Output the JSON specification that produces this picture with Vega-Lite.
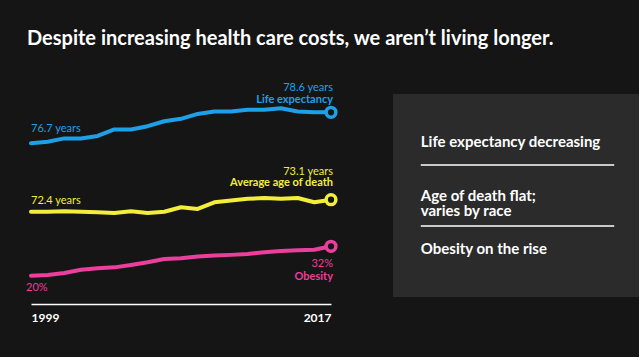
{
  "$schema": "https://vega.github.io/schema/vega-lite/v6.json",
  "background": "#151515",
  "padding": {"left": 26, "top": 29, "right": 0, "bottom": 34},
  "title": {"text": "Despite increasing health care costs, we aren’t living longer.", "anchor": "start", "frame": "bounds", "color": "#ffffff", "font": "Lato", "fontSize": 20, "fontWeight": "bold", "dx": 1, "offset": 33},
  "config": {"view": {"stroke": null}, "font": "Lato"},
  "bounds": "flush",
  "spacing": 62,
  "datasets": {
    "series": [
      {"series": "life", "year": 1999, "value": 76.7}, {"series": "life", "year": 2000, "value": 76.8}, {"series": "life", "year": 2001, "value": 77.0}, {"series": "life", "year": 2002, "value": 77.0}, {"series": "life", "year": 2003, "value": 77.15}, {"series": "life", "year": 2004, "value": 77.55}, {"series": "life", "year": 2005, "value": 77.55}, {"series": "life", "year": 2006, "value": 77.75}, {"series": "life", "year": 2007, "value": 78.05}, {"series": "life", "year": 2008, "value": 78.2}, {"series": "life", "year": 2009, "value": 78.5}, {"series": "life", "year": 2010, "value": 78.65}, {"series": "life", "year": 2011, "value": 78.65}, {"series": "life", "year": 2012, "value": 78.75}, {"series": "life", "year": 2013, "value": 78.75}, {"series": "life", "year": 2014, "value": 78.85}, {"series": "life", "year": 2015, "value": 78.65}, {"series": "life", "year": 2016, "value": 78.6}, {"series": "life", "year": 2017, "value": 78.6},
      {"series": "death", "year": 1999, "value": 72.4}, {"series": "death", "year": 2000, "value": 72.4}, {"series": "death", "year": 2001, "value": 72.42}, {"series": "death", "year": 2002, "value": 72.4}, {"series": "death", "year": 2003, "value": 72.37}, {"series": "death", "year": 2004, "value": 72.33}, {"series": "death", "year": 2005, "value": 72.42}, {"series": "death", "year": 2006, "value": 72.33}, {"series": "death", "year": 2007, "value": 72.4}, {"series": "death", "year": 2008, "value": 72.66}, {"series": "death", "year": 2009, "value": 72.56}, {"series": "death", "year": 2010, "value": 72.95}, {"series": "death", "year": 2011, "value": 73.05}, {"series": "death", "year": 2012, "value": 73.15}, {"series": "death", "year": 2013, "value": 73.2}, {"series": "death", "year": 2014, "value": 73.15}, {"series": "death", "year": 2015, "value": 73.2}, {"series": "death", "year": 2016, "value": 72.95}, {"series": "death", "year": 2017, "value": 73.1},
      {"series": "obesity", "year": 1999, "value": 20.0}, {"series": "obesity", "year": 2000, "value": 20.3}, {"series": "obesity", "year": 2001, "value": 21.1}, {"series": "obesity", "year": 2002, "value": 22.4}, {"series": "obesity", "year": 2003, "value": 23.0}, {"series": "obesity", "year": 2004, "value": 23.4}, {"series": "obesity", "year": 2005, "value": 24.4}, {"series": "obesity", "year": 2006, "value": 25.5}, {"series": "obesity", "year": 2007, "value": 26.8}, {"series": "obesity", "year": 2008, "value": 27.1}, {"series": "obesity", "year": 2009, "value": 27.8}, {"series": "obesity", "year": 2010, "value": 28.2}, {"series": "obesity", "year": 2011, "value": 28.5}, {"series": "obesity", "year": 2012, "value": 28.9}, {"series": "obesity", "year": 2013, "value": 29.6}, {"series": "obesity", "year": 2014, "value": 30.1}, {"series": "obesity", "year": 2015, "value": 30.4}, {"series": "obesity", "year": 2016, "value": 30.6}, {"series": "obesity", "year": 2017, "value": 32.0}
    ],
    "labels": [
      {"series": "life", "kind": "start", "year": 1999, "value": 76.7, "label": "76.7 years"},
      {"series": "life", "kind": "end", "year": 2017, "value": 78.6, "label": "78.6 years"},
      {"series": "life", "kind": "name", "year": 2017, "value": 78.6, "label": "Life expectancy"},
      {"series": "death", "kind": "start", "year": 1999, "value": 72.4, "label": "72.4 years"},
      {"series": "death", "kind": "end", "year": 2017, "value": 73.1, "label": "73.1 years"},
      {"series": "death", "kind": "name", "year": 2017, "value": 73.1, "label": "Average age of death"},
      {"series": "obesity", "kind": "start", "year": 1999, "value": 20, "label": "20%"},
      {"series": "obesity", "kind": "end", "year": 2017, "value": 32, "label": "32%"},
      {"series": "obesity", "kind": "name", "year": 2017, "value": 32, "label": "Obesity"}
    ],
    "notes": [
      {"item": 1, "text": "Life expectancy decreasing"},
      {"item": 2, "text": "Age of death flat;\nvaries by race"},
      {"item": 3, "text": "Obesity on the rise"}
    ]
  },
  "hconcat": [
    {
      "width": 300,
      "height": 210,
      "resolve": {"scale": {"y": "independent"}},
      "layer": [
        {
          "layer": [
            {"data": {"name": "series"}, "transform": [{"filter": "datum.series === 'life'"}],
             "mark": {"type": "line", "color": "#1ea0e6", "strokeWidth": 4, "strokeCap": "round", "strokeJoin": "round"},
             "encoding": {
               "x": {"field": "year", "type": "quantitative", "scale": {"domain": [1999, 2017], "nice": false, "zero": false},
                     "axis": {"values": [1999, 2017], "format": "d", "title": null, "grid": false, "ticks": false, "domainColor": "#ffffff", "domainWidth": 1.5, "labelColor": "#ffffff", "labelFont": "Lato", "labelFontWeight": "bold", "labelFontSize": 12, "labelPadding": 8, "labelFlush": true}},
               "y": {"field": "value", "type": "quantitative", "scale": {"domain": [66.853, 79.721], "nice": false, "zero": false}, "axis": null}}},
            {"data": {"name": "series"}, "transform": [{"filter": "datum.series === 'life' && datum.year === 2017"}],
             "mark": {"type": "point", "filled": true, "fill": "#151515", "stroke": "#1ea0e6", "strokeWidth": 3.5, "size": 95, "opacity": 1},
             "encoding": {"x": {"field": "year", "type": "quantitative"}, "y": {"field": "value", "type": "quantitative", "scale": {"domain": [66.853, 79.721], "nice": false, "zero": false}, "axis": null}}},
            {"data": {"name": "labels"}, "transform": [{"filter": "datum.series === 'life' && datum.kind === 'start'"}],
             "mark": {"type": "text", "align": "left", "baseline": "alphabetic", "dy": -11, "fontSize": 11, "color": "#1ea0e6"},
             "encoding": {"x": {"field": "year", "type": "quantitative"}, "y": {"field": "value", "type": "quantitative", "scale": {"domain": [66.853, 79.721], "nice": false, "zero": false}, "axis": null}, "text": {"field": "label"}}},
            {"data": {"name": "labels"}, "transform": [{"filter": "datum.series === 'life' && datum.kind === 'end'"}],
             "mark": {"type": "text", "align": "right", "baseline": "alphabetic", "dx": 2, "dy": -20.8, "fontSize": 11, "color": "#1ea0e6"},
             "encoding": {"x": {"field": "year", "type": "quantitative"}, "y": {"field": "value", "type": "quantitative", "scale": {"domain": [66.853, 79.721], "nice": false, "zero": false}, "axis": null}, "text": {"field": "label"}}},
            {"data": {"name": "labels"}, "transform": [{"filter": "datum.series === 'life' && datum.kind === 'name'"}],
             "mark": {"type": "text", "align": "right", "baseline": "alphabetic", "dx": 2, "dy": -9, "fontSize": 11, "fontWeight": "bold", "color": "#1ea0e6"},
             "encoding": {"x": {"field": "year", "type": "quantitative"}, "y": {"field": "value", "type": "quantitative", "scale": {"domain": [66.853, 79.721], "nice": false, "zero": false}, "axis": null}, "text": {"field": "label"}}}
          ]
        },
        {
          "layer": [
            {"data": {"name": "series"}, "transform": [{"filter": "datum.series === 'death'"}],
             "mark": {"type": "line", "color": "#f3ee3b", "strokeWidth": 4, "strokeCap": "round", "strokeJoin": "round"},
             "encoding": {"x": {"field": "year", "type": "quantitative"}, "y": {"field": "value", "type": "quantitative", "scale": {"domain": [67.015, 79.267], "nice": false, "zero": false}, "axis": null}}},
            {"data": {"name": "series"}, "transform": [{"filter": "datum.series === 'death' && datum.year === 2017"}],
             "mark": {"type": "point", "filled": true, "fill": "#151515", "stroke": "#f3ee3b", "strokeWidth": 3.5, "size": 95, "opacity": 1},
             "encoding": {"x": {"field": "year", "type": "quantitative"}, "y": {"field": "value", "type": "quantitative", "scale": {"domain": [67.015, 79.267], "nice": false, "zero": false}, "axis": null}}},
            {"data": {"name": "labels"}, "transform": [{"filter": "datum.series === 'death' && datum.kind === 'start'"}],
             "mark": {"type": "text", "align": "left", "baseline": "alphabetic", "dy": -7.7, "fontSize": 11, "color": "#f3ee3b"},
             "encoding": {"x": {"field": "year", "type": "quantitative"}, "y": {"field": "value", "type": "quantitative", "scale": {"domain": [67.015, 79.267], "nice": false, "zero": false}, "axis": null}, "text": {"field": "label"}}},
            {"data": {"name": "labels"}, "transform": [{"filter": "datum.series === 'death' && datum.kind === 'end'"}],
             "mark": {"type": "text", "align": "right", "baseline": "alphabetic", "dx": 2, "dy": -25.2, "fontSize": 11, "color": "#f3ee3b"},
             "encoding": {"x": {"field": "year", "type": "quantitative"}, "y": {"field": "value", "type": "quantitative", "scale": {"domain": [67.015, 79.267], "nice": false, "zero": false}, "axis": null}, "text": {"field": "label"}}},
            {"data": {"name": "labels"}, "transform": [{"filter": "datum.series === 'death' && datum.kind === 'name'"}],
             "mark": {"type": "text", "align": "right", "baseline": "alphabetic", "dx": 2, "dy": -13.4, "fontSize": 11, "fontWeight": "bold", "color": "#f3ee3b"},
             "encoding": {"x": {"field": "year", "type": "quantitative"}, "y": {"field": "value", "type": "quantitative", "scale": {"domain": [67.015, 79.267], "nice": false, "zero": false}, "axis": null}, "text": {"field": "label"}}}
          ]
        },
        {
          "layer": [
            {"data": {"name": "series"}, "transform": [{"filter": "datum.series === 'obesity'"}],
             "mark": {"type": "line", "color": "#ec3e9c", "strokeWidth": 4, "strokeCap": "round", "strokeJoin": "round"},
             "encoding": {"x": {"field": "year", "type": "quantitative"}, "y": {"field": "value", "type": "quantitative", "scale": {"domain": [8.45, 94.16], "nice": false, "zero": false}, "axis": null}}},
            {"data": {"name": "series"}, "transform": [{"filter": "datum.series === 'obesity' && datum.year === 2017"}],
             "mark": {"type": "point", "filled": true, "fill": "#151515", "stroke": "#ec3e9c", "strokeWidth": 3.5, "size": 95, "opacity": 1},
             "encoding": {"x": {"field": "year", "type": "quantitative"}, "y": {"field": "value", "type": "quantitative", "scale": {"domain": [8.45, 94.16], "nice": false, "zero": false}, "axis": null}}},
            {"data": {"name": "labels"}, "transform": [{"filter": "datum.series === 'obesity' && datum.kind === 'start'"}],
             "mark": {"type": "text", "align": "left", "baseline": "alphabetic", "dx": -5, "dy": 15, "fontSize": 11, "color": "#ec3e9c"},
             "encoding": {"x": {"field": "year", "type": "quantitative"}, "y": {"field": "value", "type": "quantitative", "scale": {"domain": [8.45, 94.16], "nice": false, "zero": false}, "axis": null}, "text": {"field": "label"}}},
            {"data": {"name": "labels"}, "transform": [{"filter": "datum.series === 'obesity' && datum.kind === 'end'"}],
             "mark": {"type": "text", "align": "right", "baseline": "alphabetic", "dx": 2, "dy": 21, "fontSize": 11, "color": "#ec3e9c"},
             "encoding": {"x": {"field": "year", "type": "quantitative"}, "y": {"field": "value", "type": "quantitative", "scale": {"domain": [8.45, 94.16], "nice": false, "zero": false}, "axis": null}, "text": {"field": "label"}}},
            {"data": {"name": "labels"}, "transform": [{"filter": "datum.series === 'obesity' && datum.kind === 'name'"}],
             "mark": {"type": "text", "align": "right", "baseline": "alphabetic", "dx": 2, "dy": 33.7, "fontSize": 11, "fontWeight": "bold", "color": "#ec3e9c"},
             "encoding": {"x": {"field": "year", "type": "quantitative"}, "y": {"field": "value", "type": "quantitative", "scale": {"domain": [8.45, 94.16], "nice": false, "zero": false}, "axis": null}, "text": {"field": "label"}}}
          ]
        }
      ]
    },
    {
      "width": 246,
      "height": 203,
      "view": {"fill": "#2b2b2b", "stroke": null},
      "data": {"name": "notes"},
      "encoding": {
        "y": {"field": "item", "type": "quantitative", "scale": {"domain": [0.085, 3.915], "reverse": true, "nice": false, "zero": false}, "axis": null}
      },
      "layer": [
        {"mark": {"type": "text", "align": "left", "baseline": "middle", "fontSize": 15, "fontWeight": "bold", "color": "#ffffff", "lineBreak": "\n", "lineHeight": 15.5},
         "encoding": {"x": {"datum": 0, "type": "quantitative", "scale": {"domain": [-0.1436, 1.1282], "nice": false, "zero": false}, "axis": null}, "text": {"field": "text"}}},
        {"transform": [{"filter": "datum.item === 1"}],
         "mark": {"type": "rule", "color": "#ffffff", "strokeWidth": 1.5, "yOffset": 22.5},
         "encoding": {"x": {"datum": 0, "type": "quantitative"}, "x2": {"datum": 1}}},
        {"transform": [{"filter": "datum.item === 2"}],
         "mark": {"type": "rule", "color": "#ffffff", "strokeWidth": 1.5, "yOffset": 30.5},
         "encoding": {"x": {"datum": 0, "type": "quantitative"}, "x2": {"datum": 1}}}
      ]
    }
  ]
}
